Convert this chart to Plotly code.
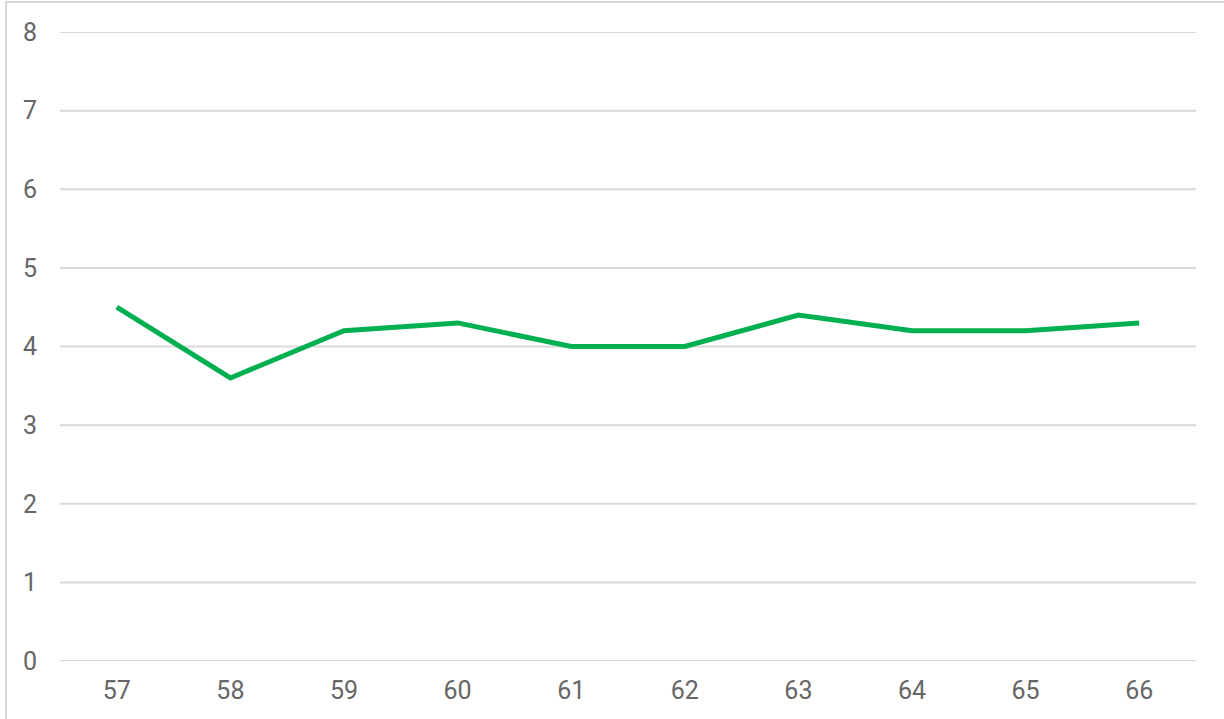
import plotly.graph_objects as go

categories = ["57", "58", "59", "60", "61", "62", "63", "64", "65", "66"]
values = [4.5, 3.6, 4.2, 4.3, 4.0, 4.0, 4.4, 4.2, 4.2, 4.3]
y_ticks = [0, 1, 2, 3, 4, 5, 6, 7, 8]

fig = go.Figure()
fig.add_trace(go.Scatter(
    x=list(range(len(categories))),
    y=values,
    mode="lines",
    line=dict(color="#00B050", width=5),
    hoverinfo="skip",
))

font = dict(family="Roboto, 'Noto Sans', sans-serif", size=25, color="#666666")
grid_color = "#d9d9d9"

# horizontal grid lines drawn as shapes so the top and bottom ones are kept
grid_shapes = [
    dict(type="line", xref="paper", yref="y", x0=0, x1=1, y0=v, y1=v,
         line=dict(color=grid_color, width=2), layer="below")
    for v in y_ticks
]

fig.update_layout(
    width=1224,
    height=719,
    margin=dict(l=60, r=28, t=32, b=58),
    paper_bgcolor="white",
    plot_bgcolor="white",
    showlegend=False,
    xaxis=dict(
        range=[-0.5, len(categories) - 0.5],
        tickmode="array",
        tickvals=list(range(len(categories))),
        ticktext=categories,
        showgrid=False,
        zeroline=False,
        showline=False,
        ticks="",
        tickfont=font,
        ticklabelstandoff=12,
    ),
    yaxis=dict(
        range=[0, 8],
        tickmode="array",
        tickvals=y_ticks,
        ticktext=[str(v) for v in y_ticks],
        showgrid=False,
        zeroline=False,
        showline=False,
        ticks="",
        tickfont=font,
        ticklabelstandoff=22,
    ),
    shapes=[
        dict(
            type="rect", xref="paper", yref="paper",
            x0=(6 - 60) / 1136, x1=1.1,
            y0=-0.2, y1=1 + 30 / 629,
            line=dict(color=grid_color, width=2),
            fillcolor="rgba(0,0,0,0)",
            layer="below",
        ),
    ] + grid_shapes,
)

fig.write_html("out.html")
